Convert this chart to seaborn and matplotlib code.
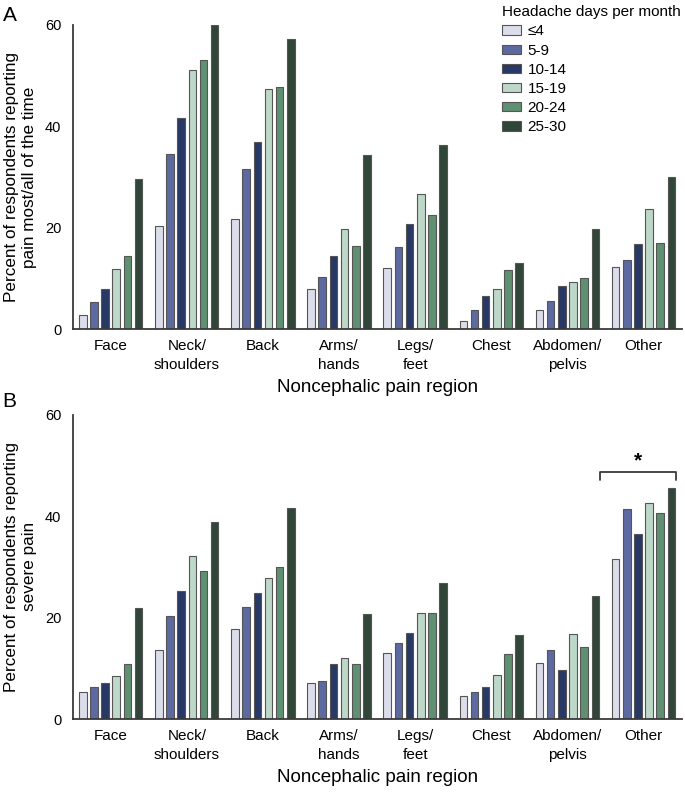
import pandas as pd
import matplotlib.pyplot as plt
import seaborn as sns

# data
regions = ["Face", "Neck/\nshoulders", "Back", "Arms/\nhands", "Legs/\nfeet",
           "Chest", "Abdomen/\npelvis", "Other"]
day_groups = ["≤4", "5-9", "10-14", "15-19", "20-24", "25-30"]

# panel A: pain most/all of the time (one list per day group, over regions)
most_le4 = [2.8, 20.4, 21.8, 8.0, 12.0, 1.7, 3.7, 12.2]
most_5_9 = [5.4, 34.5, 31.6, 10.3, 16.2, 3.8, 5.6, 13.6]
most_10_14 = [8.0, 41.6, 36.8, 14.5, 20.8, 6.5, 8.6, 16.7]
most_15_19 = [11.8, 51.0, 47.3, 19.7, 26.6, 8.0, 9.3, 23.7]
most_20_24 = [14.5, 53.0, 47.7, 16.3, 22.6, 11.6, 10.1, 17.0]
most_25_30 = [29.7, 60.0, 57.2, 34.3, 36.3, 13.0, 19.7, 30.0]

# panel B: severe pain
sev_le4 = [5.4, 13.6, 17.7, 7.2, 13.0, 4.6, 11.1, 31.5]
sev_5_9 = [6.4, 20.4, 22.1, 7.5, 15.0, 5.4, 13.7, 41.5]
sev_10_14 = [7.2, 25.3, 24.8, 10.8, 17.0, 6.3, 9.6, 36.5]
sev_15_19 = [8.5, 32.1, 27.8, 12.1, 21.0, 8.7, 16.8, 42.5]
sev_20_24 = [10.9, 29.1, 29.9, 10.9, 21.0, 12.9, 14.3, 40.6]
sev_25_30 = [21.9, 38.9, 41.7, 20.8, 26.8, 16.6, 24.3, 45.6]

colors = ["#d8dbee", "#5163ae", "#1e3470", "#b9dcc8", "#56986f", "#2c4a37"]

panels = [
    ("A", 0.992, "Percent of respondents reporting\npain most/all of the time",
     [most_le4, most_5_9, most_10_14, most_15_19, most_20_24, most_25_30]),
    ("B", 0.510, "Percent of respondents reporting\nsevere pain",
     [sev_le4, sev_5_9, sev_10_14, sev_15_19, sev_20_24, sev_25_30]),
]

sns.set_style("white")
plt.rcParams['font.family'] = ['Liberation Sans', 'DejaVu Sans']
plt.rcParams['font.size'] = 11
plt.rcParams['text.color'] = 'black'
plt.rcParams['axes.labelcolor'] = 'black'

fig = plt.figure(figsize=(6.85, 7.99), dpi=100)
ax_a = fig.add_axes([0.106, 0.588, 0.889, 0.381])
ax_b = fig.add_axes([0.106, 0.100, 0.889, 0.381])
spine_col = "#3a3a3a"

for ax, (letter, letter_y, ylab, series) in zip([ax_a, ax_b], panels):
    rows = []
    for grp, vals in zip(day_groups, series):
        for reg, v in zip(regions, vals):
            rows.append({"region": reg, "days": grp, "value": v})
    df = pd.DataFrame(rows)

    sns.barplot(data=df, x="region", y="value", hue="days",
                order=regions, hue_order=day_groups, palette=colors,
                width=0.88, gap=0.32, errorbar=None,
                edgecolor="#555555", linewidth=0.8, ax=ax)

    ax.set_ylim(0, 60)
    ax.set_xlim(-0.5, len(regions) - 0.5)
    ax.set_yticks([0, 20, 40, 60])
    ax.set_xticks([i - 0.5 for i in range(len(regions) + 1)], minor=True)
    ax.tick_params(axis="x", which="major", length=0, pad=7, labelsize=11,
                   labelcolor="black")
    ax.tick_params(axis="x", which="minor", length=7, width=1.5,
                   color=spine_col, direction="out")
    ax.tick_params(axis="y", length=4, width=1.2, color=spine_col,
                   direction="out", labelsize=10.5, pad=4, labelcolor="black")
    ax.set_xticklabels(regions, multialignment="center", linespacing=1.45)
    sns.despine(ax=ax)
    for s in ["left", "bottom"]:
        ax.spines[s].set_color(spine_col)
        ax.spines[s].set_linewidth(1.3)

    ax.set_xlabel("Noncephalic pain region", fontsize=13.5, labelpad=5)
    ax.set_ylabel(ylab, fontsize=12.3, labelpad=6)

    handles, labels = ax.get_legend_handles_labels()
    if ax.get_legend() is not None:
        ax.get_legend().remove()

    fig.text(0.004, letter_y, letter, fontsize=15, va="top", ha="left")

# legend for panel A at the top right of the figure
leg = ax_a.legend(handles, labels, title="Headache days per month",
                  loc="upper left", bbox_to_anchor=(0.722, 1.003),
                  bbox_transform=fig.transFigure, frameon=False,
                  borderpad=0.0, handlelength=1.2, handleheight=0.55,
                  handletextpad=0.45, labelspacing=0.34, fontsize=11,
                  title_fontsize=11, alignment="left")

# significance bracket over the "Other" group in panel B
other = regions.index("Other")
x0, x1 = other - 0.575, other + 0.43
y_br = 48.8
ax_b.plot([x0, x0, x1, x1], [y_br - 1.6, y_br, y_br, y_br - 1.6],
          color=spine_col, linewidth=1.3, clip_on=False)
ax_b.text((x0 + x1) / 2, y_br + 0.2, "*", ha="center", va="bottom",
          fontsize=15, fontweight="bold")

fig.savefig("out.png", dpi=100)
